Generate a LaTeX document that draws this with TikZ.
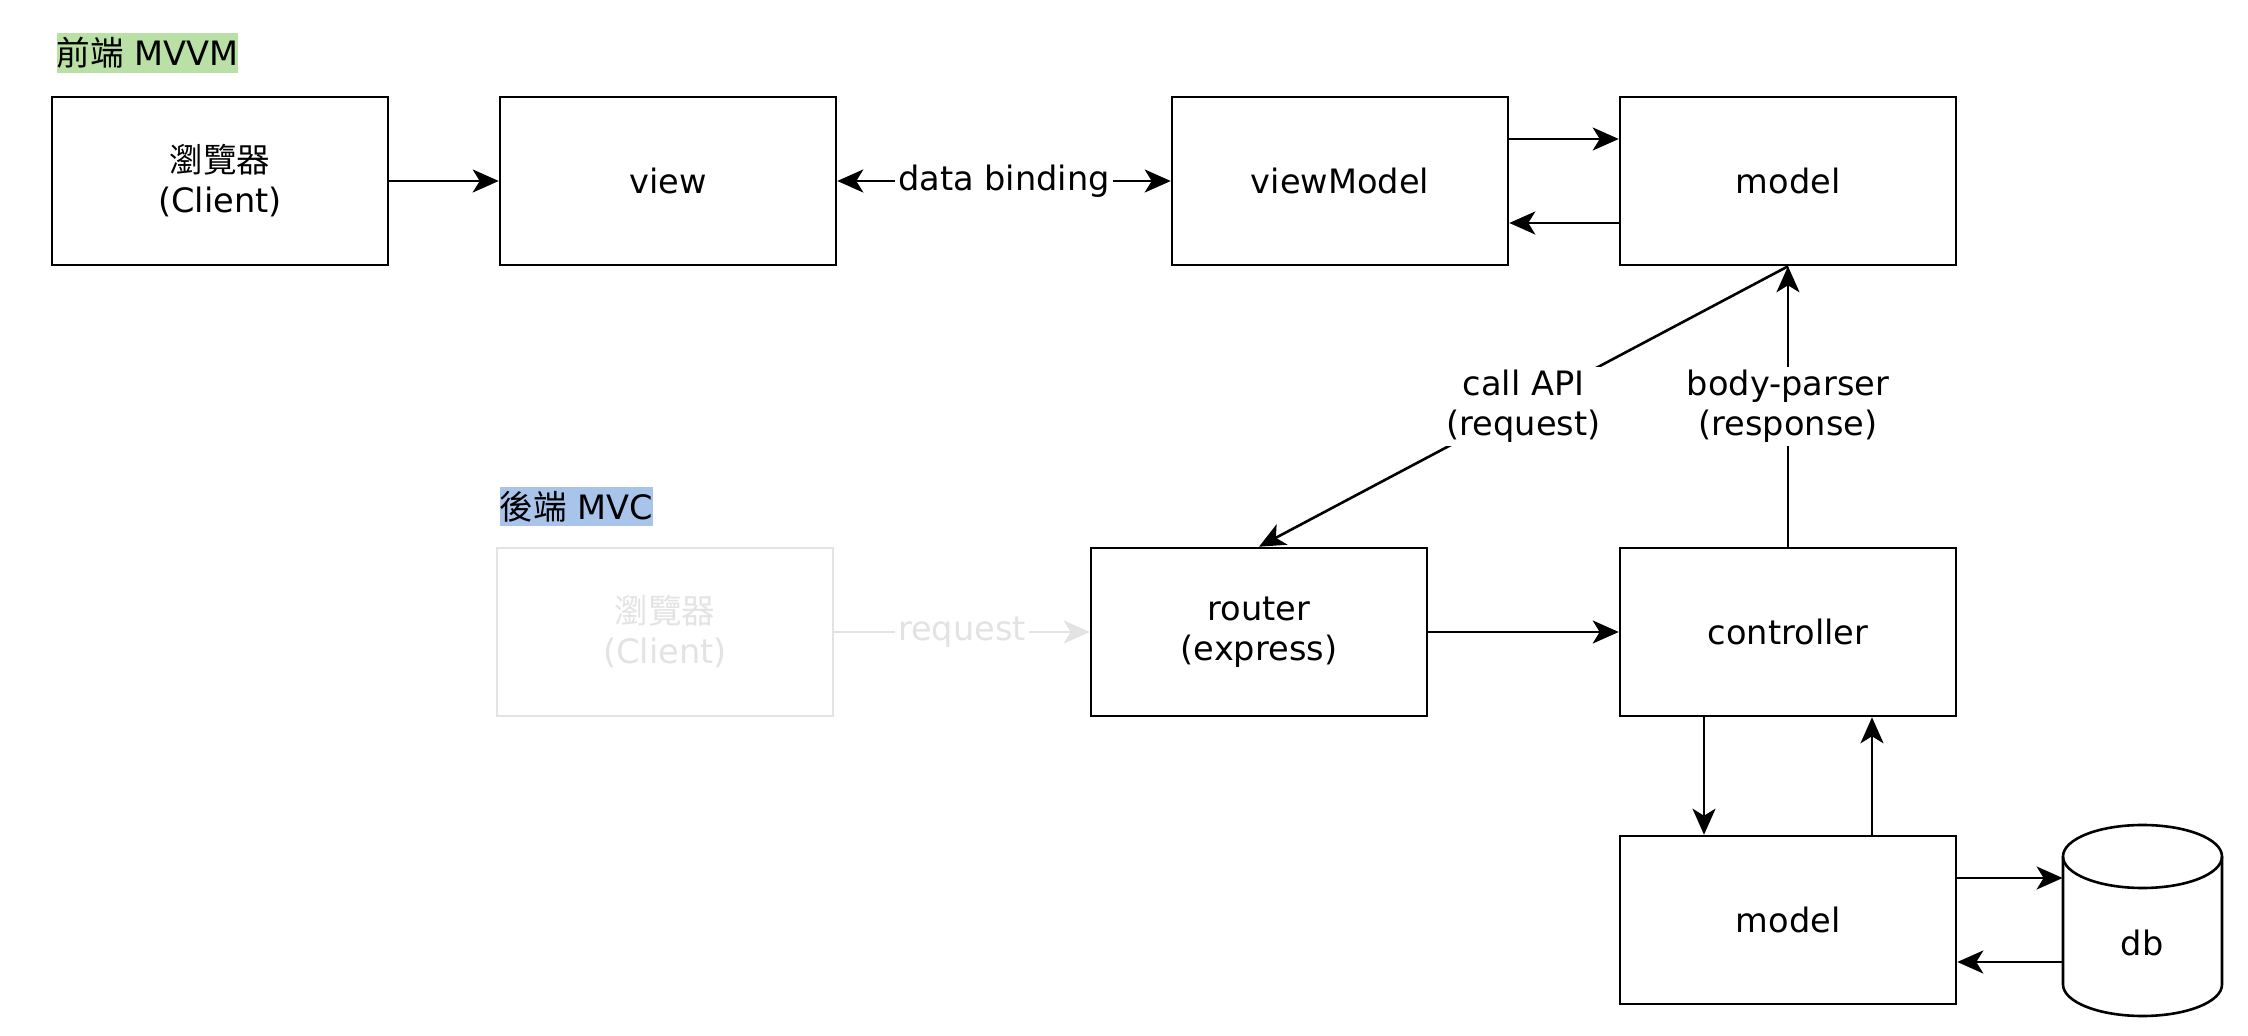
\documentclass[tikz,border=0pt]{standalone}
\usepackage{fontspec}
\setmainfont{DejaVu Sans}
\newfontfamily\cjk{Noto Sans CJK TC}
\usetikzlibrary{arrows.meta,calc}
\definecolor{lgreen}{HTML}{B9E0A5}
\definecolor{lblue}{HTML}{A9C4EB}
\definecolor{ghost}{HTML}{E3E3E3}
\begin{document}
\begin{tikzpicture}[x=0.5pt,y=-0.5pt,
  txt/.style={font=\fontsize{16.8}{20}\selectfont},
  box/.style={txt, draw, line width=1.3pt, minimum width=168pt, minimum height=84pt, inner sep=0pt, align=center},
  tip/.style={Stealth[length=13pt,width=11.5pt,inset=3.5pt]},
  conn/.style={line width=1.3pt, -{Stealth[length=13pt,width=11.5pt,inset=3.5pt]}},
  lbl/.style={txt, fill=white, inner sep=1.5pt, align=center},
  tag/.style={txt, inner sep=0pt}
]
\useasboundingbox (0,0) rectangle (2248,1036);
\fill[white] (0,0) rectangle (2248,1036);

% section labels
\node[tag, fill=lgreen, minimum width=90.5pt, minimum height=20pt] (tagfront) at (147.5,53) {{\cjk 前端} MVVM};
\node[tag, fill=lblue, minimum width=76.5pt, minimum height=19.5pt] (tagback) at (576.5,506.5) {{\cjk 後端} MVC};

% top row
\node[box] (b1) at (220,181) {{\cjk 瀏覽器}\\(Client)};
\node[box] (view) at (668,181) {view};
\node[box] (vm) at (1340,181) {viewModel};
\node[box] (model) at (1788,181) {model};

% middle row
\node[box, draw=ghost, text=ghost] (ghostb) at (665,632) {{\cjk 瀏覽器}\\(Client)};
\node[box] (router) at (1259,632) {router\\(express)};
\node[box] (ctrl) at (1788,632) {controller};

% bottom row
\node[box] (m2) at (1788,920) {model};
\node[inner sep=0pt, minimum width=79.5pt, minimum height=95.5pt] (db) at (2142.5,920.5) {};
\draw[line width=1.3pt] (2063,856.5) -- (2063,984.5) arc[start angle=180, end angle=0, x radius=79.5, y radius=31.5] -- (2222,856.5);
\draw[line width=1.3pt] (2142.5,856.5) ellipse[x radius=79.5, y radius=31.5];
\node[txt] (dbtext) at (2142,943) {db};

% connectors
\draw[conn] (b1) -- (view);
\draw[line width=1.3pt, {Stealth[length=13pt,width=11.5pt,inset=3.5pt]}-{Stealth[length=13pt,width=11.5pt,inset=3.5pt]}] (view) -- node[lbl] {data binding} (vm);
\draw[conn] ([yshift=21pt]vm.east) -- ([yshift=21pt]vm.east -| model.west);
\draw[conn] ([yshift=-21pt]model.west) -- ([yshift=-21pt]model.west -| vm.east);
\draw[conn] (model.south) -- node[lbl] {call API\\(request)} (router.north);
\draw[conn] (ctrl.north) -- node[lbl] {body-parser\\(response)} (model.south);
\draw[conn, draw=ghost] (ghostb) -- node[lbl, text=ghost] {request} (router);
\draw[conn] (router) -- (ctrl);
\draw[conn] ([xshift=-42pt]ctrl.south) -- ([xshift=-42pt]m2.north);
\draw[conn] ([xshift=42pt]m2.north) -- ([xshift=42pt]ctrl.south);
\draw[conn] ([yshift=21pt]m2.east) -- ([yshift=21pt]m2.east -| db.west);
\draw[conn] ([yshift=-21pt]m2.east -| db.west) -- ([yshift=-21pt]m2.east);
\end{tikzpicture}
\end{document}
